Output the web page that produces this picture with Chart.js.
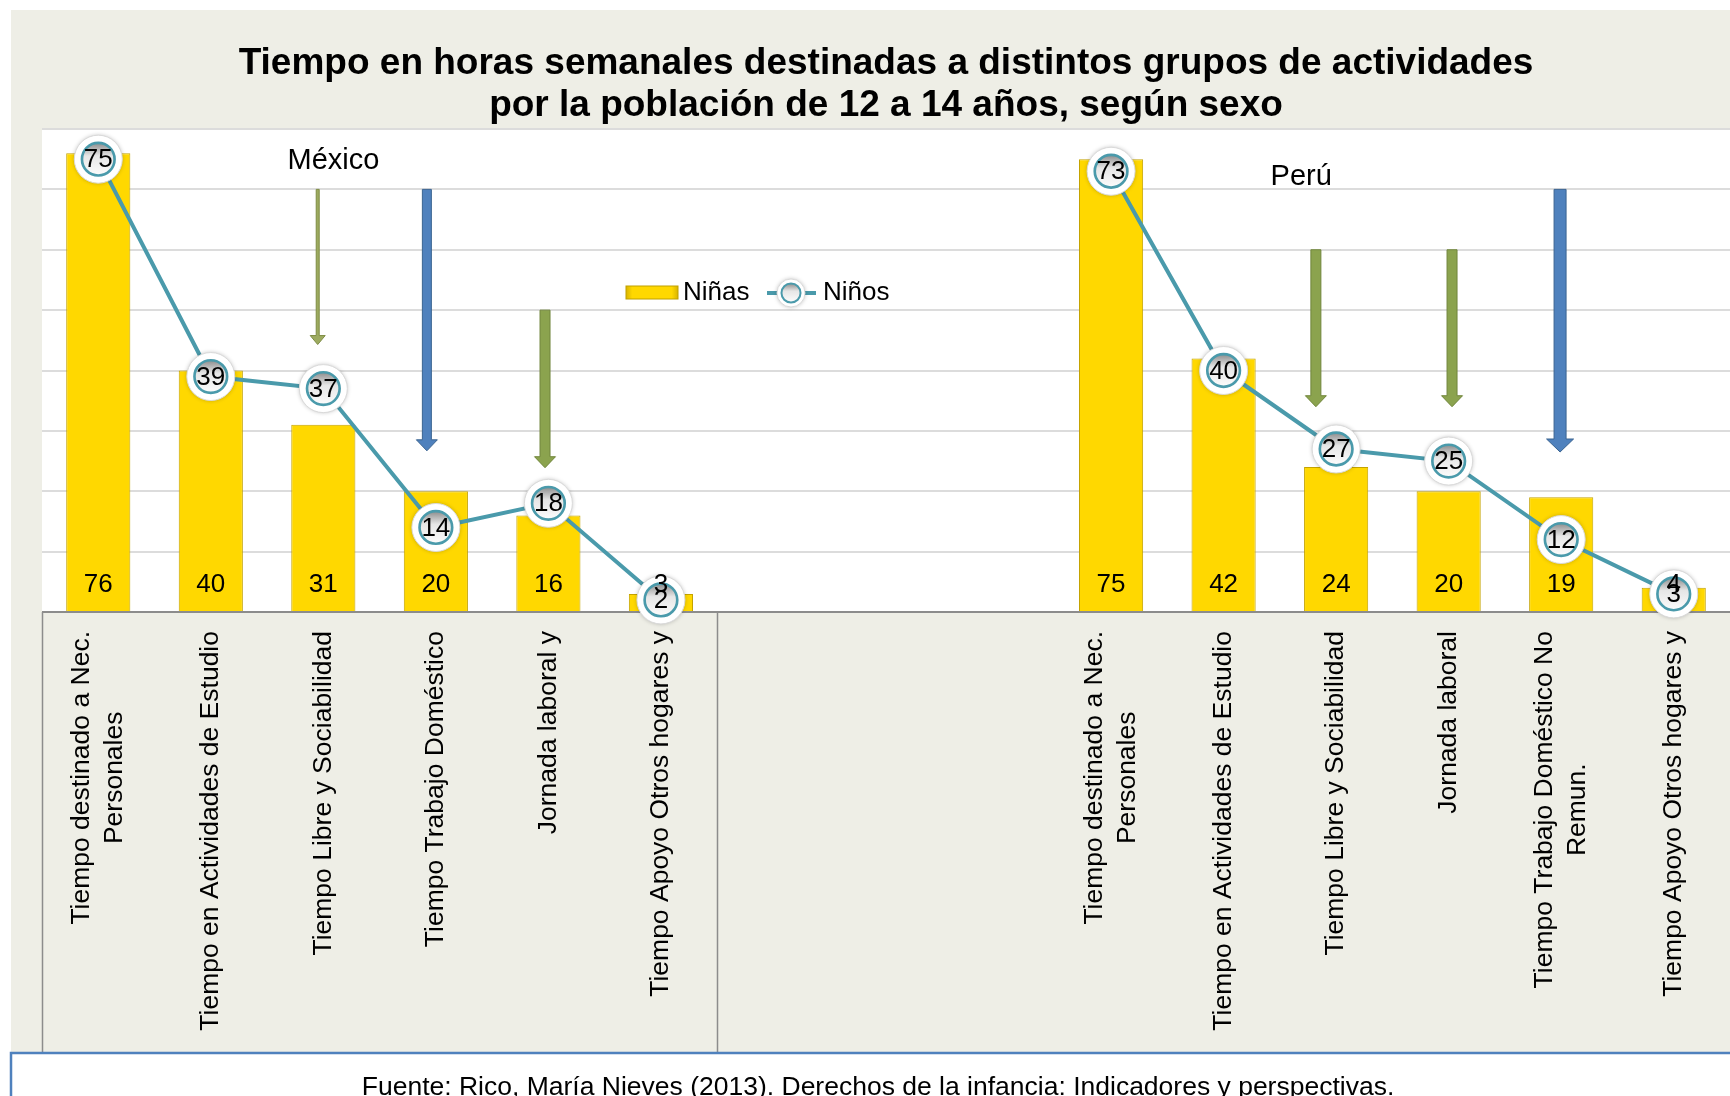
<!DOCTYPE html>
<html lang="es">
<head>
<meta charset="utf-8">
<title>Tiempo en horas semanales por actividades</title>
<script src="https://cdn.jsdelivr.net/npm/chart.js@4.4.0/dist/chart.umd.min.js"></script>
<style>
  html, body { margin: 0; padding: 0; background: #ffffff; }
  #contenedor { width: 1730px; height: 1096px; }
</style>
</head>
<body>
<div id="contenedor"><canvas id="grafico" width="1730" height="1096"></canvas></div>
<script>
// datos
const categorias = [
  ['Tiempo destinado a Nec.', 'Personales'],
  ['Tiempo en Actividades de Estudio'],
  ['Tiempo Libre y Sociabilidad'],
  ['Tiempo Trabajo Doméstico'],
  ['Jornada laboral y'],
  ['Tiempo Apoyo Otros hogares y'],
  [''], [''], [''],
  ['Tiempo destinado a Nec.', 'Personales'],
  ['Tiempo en Actividades de Estudio'],
  ['Tiempo Libre y Sociabilidad'],
  ['Jornada laboral'],
  ['Tiempo Trabajo Doméstico No', 'Remun.'],
  ['Tiempo Apoyo Otros hogares y']
];
const ninas = [76, 40, 31, 20, 16, 3, null, null, null, 75, 42, 24, 20, 19, 4];
const ninos = [75, 39, 37, 14, 18, 2, null, null, null, 73, 40, 27, 25, 12, 3];
const ticksY = [0, 10, 20, 30, 40, 50, 60, 70, 80];
const series = ['Niñas', 'Niños'];

// anotaciones (en unidades de categoría / horas)
const paises = ['México', 'Perú'];
const paisesCat = [2.09, 10.69];
const paisesHoras = [74.7, 72.1];
const flechasCat = [1.95, 2.92, 3.97, 10.82, 12.03, 12.99];
const flechasDesde = [70, 70, 50, 60, 60, 70];
const flechasHasta = [44.3, 26.7, 23.9, 34, 34, 26.5];

const titulo = [
  'Tiempo en horas semanales destinadas a distintos grupos de actividades',
  'por la población de 12 a 14 años, según sexo'
];
const fuente = 'Fuente: Rico, María Nieves (2013). Derechos de la infancia: Indicadores y perspectivas.';

const FUENTE = "'Liberation Sans', Arial, sans-serif";
const BEIGE = '#EEEEE6';
const AMARILLO = '#FFD800';
const TEAL = '#4A9AAB';

const estiloFlechas = [
  { color: '#9DAB60', borde: '#7F8D45', ancho: 3, punta: 15, cabeza: 9 },
  { color: '#4F81BD', borde: '#3B6491', ancho: 9, punta: 21, cabeza: 11 },
  { color: '#8BA34E', borde: '#71863C', ancho: 10, punta: 21, cabeza: 11 },
  { color: '#8BA34E', borde: '#71863C', ancho: 10, punta: 21, cabeza: 11 },
  { color: '#8BA34E', borde: '#71863C', ancho: 10, punta: 21, cabeza: 11 },
  { color: '#4F81BD', borde: '#3B6491', ancho: 12, punta: 27, cabeza: 13 }
];

function dibujaFlecha(ctx, x, y1, y2, est) {
  ctx.save();
  ctx.fillStyle = est.color;
  ctx.strokeStyle = est.borde;
  ctx.lineWidth = 1;
  ctx.beginPath();
  ctx.moveTo(x - est.ancho / 2, y1);
  ctx.lineTo(x + est.ancho / 2, y1);
  ctx.lineTo(x + est.ancho / 2, y2 - est.cabeza);
  ctx.lineTo(x + est.punta / 2, y2 - est.cabeza);
  ctx.lineTo(x, y2);
  ctx.lineTo(x - est.punta / 2, y2 - est.cabeza);
  ctx.lineTo(x - est.ancho / 2, y2 - est.cabeza);
  ctx.closePath();
  ctx.fill();
  ctx.stroke();
  ctx.restore();
}

function dibujaMarcador(ctx, x, y, r) {
  ctx.save();
  ctx.shadowColor = 'rgba(0,0,0,0.25)';
  ctx.shadowBlur = 4;
  ctx.beginPath();
  ctx.arc(x, y, r, 0, 2 * Math.PI);
  ctx.fillStyle = '#FFFFFF';
  ctx.fill();
  ctx.restore();
  ctx.save();
  ctx.beginPath();
  ctx.arc(x, y, r, 0, 2 * Math.PI);
  ctx.strokeStyle = '#DADADA';
  ctx.lineWidth = 1;
  ctx.stroke();
  const ri = r * 0.68;
  const g = ctx.createLinearGradient(x, y - ri, x, y + ri);
  g.addColorStop(0, '#8C8C8C');
  g.addColorStop(0.4, '#E6E6E6');
  g.addColorStop(1, '#FCFCFC');
  ctx.beginPath();
  ctx.arc(x, y, ri, 0, 2 * Math.PI);
  ctx.fillStyle = g;
  ctx.fill();
  ctx.strokeStyle = TEAL;
  ctx.lineWidth = Math.max(2, r * 0.11);
  ctx.stroke();
  ctx.restore();
}

function dibujaBarra(ctx, x, y, w, h) {
  ctx.save();
  const g = ctx.createLinearGradient(x, 0, x + w, 0);
  g.addColorStop(0, '#D9B400');
  g.addColorStop(0.12, AMARILLO);
  g.addColorStop(0.88, AMARILLO);
  g.addColorStop(1, '#D9B400');
  ctx.fillStyle = g;
  ctx.fillRect(x, y, w, h);
  ctx.strokeStyle = '#BFA000';
  ctx.lineWidth = 1;
  ctx.strokeRect(x, y, w, h);
  ctx.restore();
}

const decorado = {
  id: 'decorado',
  beforeDraw(chart) {
    const { ctx, width, height, chartArea } = chart;
    ctx.save();
    ctx.fillStyle = '#FFFFFF';
    ctx.fillRect(0, 0, width, height);
    ctx.fillStyle = BEIGE;
    ctx.fillRect(11, 10, width - 11, height - 10);
    ctx.fillStyle = '#FFFFFF';
    ctx.fillRect(chartArea.left, chartArea.top, chartArea.right - chartArea.left, chartArea.bottom - chartArea.top);
    ctx.restore();
  },
  beforeDatasetsDraw(chart) {
    const { ctx } = chart;
    const x = chart.scales.x, y = chart.scales.y;
    flechasCat.forEach((c, i) => {
      dibujaFlecha(ctx, x.getPixelForValue(c), y.getPixelForValue(flechasDesde[i]), y.getPixelForValue(flechasHasta[i]), estiloFlechas[i]);
    });
    ctx.save();
    ctx.fillStyle = '#000000';
    ctx.font = '29px ' + FUENTE;
    ctx.textAlign = 'center';
    ctx.textBaseline = 'middle';
    paises.forEach((p, i) => {
      ctx.fillText(p, x.getPixelForValue(paisesCat[i]), y.getPixelForValue(paisesHoras[i]));
    });
    ctx.restore();
  },
  afterDatasetsDraw(chart) {
    const { ctx, chartArea } = chart;
    const linea = chart.getDatasetMeta(0);
    const barras = chart.getDatasetMeta(1);
    ctx.save();
    ctx.font = '26px ' + FUENTE;
    ctx.textAlign = 'center';
    ctx.textBaseline = 'middle';
    ctx.fillStyle = '#000000';
    linea.data.forEach((pt, i) => {
      if (ninos[i] === null) return;
      dibujaMarcador(ctx, pt.x, pt.y, 24);
      ctx.fillStyle = '#000000';
      ctx.fillText(String(ninos[i]), pt.x, pt.y + 1);
    });
    barras.data.forEach((b, i) => {
      if (ninas[i] === null) return;
      ctx.fillText(String(ninas[i]), b.x, chartArea.bottom - 27);
    });

    // leyenda
    dibujaBarra(ctx, 626, 286, 52, 13);
    ctx.textAlign = 'left';
    ctx.fillStyle = '#000000';
    ctx.fillText(series[0], 683, 293);
    ctx.strokeStyle = TEAL;
    ctx.lineWidth = 4;
    ctx.beginPath();
    ctx.moveTo(767, 293);
    ctx.lineTo(816, 293);
    ctx.stroke();
    dibujaMarcador(ctx, 791, 293, 14);
    ctx.fillStyle = '#000000';
    ctx.fillText(series[1], 823, 293);
    ctx.restore();
  },
  afterDraw(chart) {
    const { ctx, chartArea, height } = chart;
    const x = chart.scales.x;
    const fondoPie = 1053;
    ctx.save();
    // separadores del eje de categorías
    ctx.strokeStyle = '#8C8C8C';
    ctx.lineWidth = 1.5;
    const divisor = (x.getPixelForValue(5) + x.getPixelForValue(6)) / 2;
    [chartArea.left, divisor].forEach(px => {
      ctx.beginPath();
      ctx.moveTo(Math.round(px) + 0.5, chartArea.bottom);
      ctx.lineTo(Math.round(px) + 0.5, fondoPie);
      ctx.stroke();
    });

    // etiquetas verticales
    ctx.fillStyle = '#000000';
    ctx.font = '26.5px ' + FUENTE;
    ctx.textBaseline = 'middle';
    ctx.textAlign = 'center';
    const interlinea = 32.5;
    categorias.forEach((lineas, i) => {
      const ancho = Math.max(...lineas.map(l => ctx.measureText(l).width));
      if (!ancho) return;
      ctx.save();
      ctx.translate(x.getPixelForValue(i), chartArea.bottom + 19);
      ctx.rotate(-Math.PI / 2);
      lineas.forEach((l, k) => {
        ctx.fillText(l, -ancho / 2, (k - (lineas.length - 1) / 2) * interlinea);
      });
      ctx.restore();
    });

    // recuadro de la fuente
    ctx.fillStyle = '#FFFFFF';
    ctx.fillRect(11, fondoPie, chart.width, height - fondoPie + 5);
    ctx.strokeStyle = '#4F81BD';
    ctx.lineWidth = 2.5;
    ctx.strokeRect(11, fondoPie, chart.width, height - fondoPie + 5);
    ctx.fillStyle = '#000000';
    ctx.font = '26.5px ' + FUENTE;
    ctx.textAlign = 'center';
    ctx.textBaseline = 'alphabetic';
    ctx.fillText(fuente, 878, 1095);
    ctx.restore();
  }
};

function construyeGrafico() {
  const data = {
    labels: categorias,
    datasets: [
      {
        type: 'line',
        label: series[1],
        data: ninos,
        borderColor: TEAL,
        borderWidth: 4,
        pointRadius: 0,
        tension: 0,
        spanGaps: false,
        order: 0
      },
      {
        type: 'bar',
        label: series[0],
        data: ninas,
        backgroundColor: AMARILLO,
        borderColor: '#C4A300',
        borderWidth: 1,
        barPercentage: 0.57,
        categoryPercentage: 1,
        order: 1
      }
    ]
  };

  const config = {
    type: 'bar',
    data: data,
    options: {
      responsive: false,
      animation: false,
      layout: { padding: { left: 42, right: 0, top: 0, bottom: 484 } },
      plugins: {
        legend: { display: false },
        tooltip: { enabled: false },
        title: {
          display: true,
          text: titulo,
          color: '#000000',
          font: { family: FUENTE, size: 37, weight: 'bold', lineHeight: 42 / 37 },
          padding: { top: 43, bottom: 2 }
        }
      },
      scales: {
        x: { display: false },
        y: {
          min: ticksY[0],
          max: ticksY[ticksY.length - 1],
          ticks: { display: false, stepSize: ticksY[1] - ticksY[0] },
          grid: {
            drawTicks: false,
            lineWidth: 2,
            color: c => (c.tick && c.tick.value === 0 ? '#8C8C8C' : '#DCDCDC')
          },
          border: { display: false }
        }
      }
    },
    plugins: [decorado]
  };

  new Chart(document.getElementById('grafico'), config);
}

construyeGrafico();
</script>
</body>
</html>
